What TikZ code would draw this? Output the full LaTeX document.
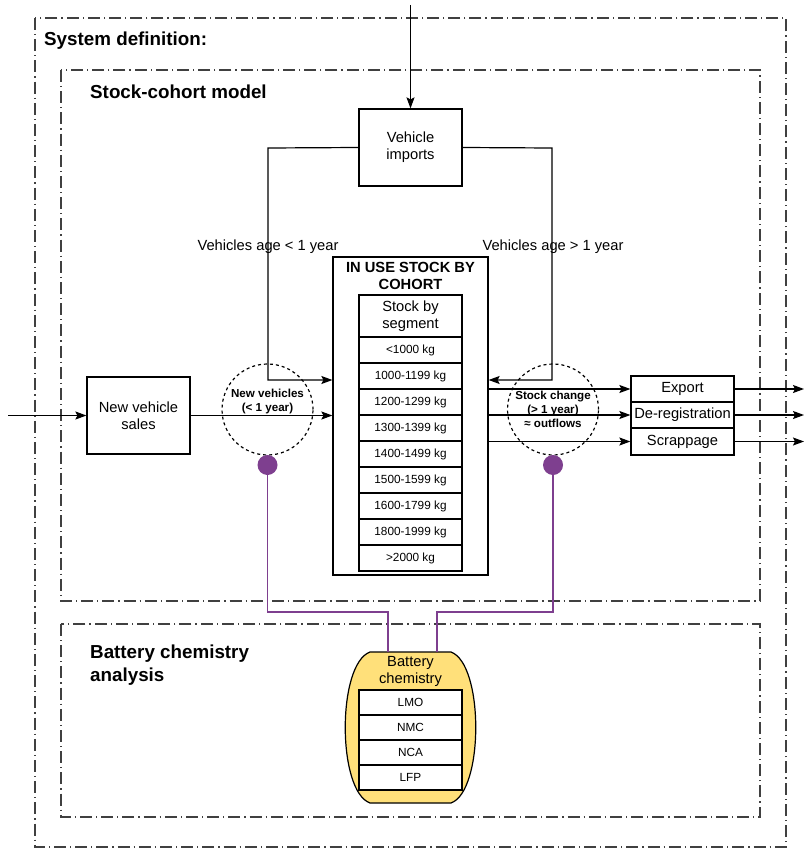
\documentclass[tikz,border=0pt]{standalone}
\usepackage{fontspec}
\setmainfont{Liberation Sans}
\usetikzlibrary{arrows.meta}
\definecolor{purp}{HTML}{7E3F8F}
\definecolor{batt}{HTML}{FFE07A}
\begin{document}
\begin{tikzpicture}[x=1pt,y=-1pt,
  box/.style={draw, line width=1.2pt, inner sep=0pt, align=center, font=\fontsize{14.7}{17}\selectfont},
  cell/.style={draw, line width=1.2pt, inner sep=0pt, minimum width=103pt, font=\fontsize{11.8}{13}\selectfont},
  arr/.style={line width=1.2pt, -{Stealth[length=11pt,width=8pt,inset=2pt]}},
  dashdot/.style={line width=1.1pt, draw=black!75, dash pattern=on 12pt off 4pt on 1.2pt off 4pt},
  circ/.style={draw, circle, dashed, line width=1.2pt, minimum size=91pt, inner sep=0pt},
  dot/.style={circle, fill=purp, minimum size=20pt, inner sep=0pt},
  plink/.style={draw=purp, line width=1.1pt},
  ttl/.style={font=\fontsize{18.8}{23}\selectfont\bfseries, inner sep=0pt, align=left},
  lbl/.style={font=\fontsize{14.7}{17}\selectfont, inner sep=0pt},
  ctext/.style={font=\fontsize{11.6}{14}\selectfont\bfseries, inner sep=0pt, align=center}]
\useasboundingbox (0,0) rectangle (804,848);

% system frames
\draw[dashdot] (35,18) rectangle (786,847);
\draw[dashdot] (61,70) rectangle (760,601);
\draw[dashdot] (61,624) rectangle (760,817);
\node[ttl, anchor=west] (tsys) at (44,41) {System definition:};
\node[ttl, anchor=west] (tstock) at (90,92) {Stock-cohort model};
\node[ttl, anchor=north west] (tbatt) at (90,644.5) {Battery chemistry\\analysis};

% vehicle imports
\node[box, minimum width=103pt, minimum height=77pt] (vi) at (410.5,147.5) {Vehicle\\imports};
\coordinate (top) at (410.5,5);
\draw[arr] (top) -- (vi.north);

% stock box
\node[draw, line width=1.2pt, minimum width=155pt, minimum height=318pt, inner sep=0pt] (stock) at (410.5,416) {};
\node[font=\fontsize{14.7}{17}\selectfont\bfseries, align=center, inner sep=0pt] (stitle) at (410.5,276) {IN USE STOCK BY\\COHORT};
\node[box, minimum width=103pt, minimum height=42pt] (seg) at (410.5,316) {Stock by\\segment};
\foreach \t [count=\i] in {<1000 kg,1000-1199 kg,1200-1299 kg,1300-1399 kg,1400-1499 kg,1500-1599 kg,1600-1799 kg,1800-1999 kg,>2000 kg}{
  \node[cell, minimum height=26pt] (c\i) at (410.5,{337+26*\i-13}) {\t};
}

% new vehicle sales
\node[box, minimum width=103pt, minimum height=77pt] (nvs) at (138.5,415.5) {New vehicle\\sales};
\coordinate (in) at (8,415.5);
\draw[arr] (in) -- (nvs.west);
\draw[arr] (nvs.east) -- (stock.west |- nvs.east);

% import paths
\draw[arr] (vi.west) -- (268,148) -- (268,380) -- (stock.west |- 0,380);
\draw[arr] (vi.east) -- (552,148) -- (552,380) -- (stock.east |- 0,380);
\node[lbl] (l1) at (268,246.5) {Vehicles age < 1 year};
\node[lbl] (l2) at (553,246.5) {Vehicles age > 1 year};

% circles
\node[circ] (cn) at (267.5,409.5) {};
\node[ctext] (tn) at (267.5,401.5) {New vehicles\\(< 1 year)};
\node[circ] (cs) at (553,409.5) {};
\node[ctext] (ts) at (553,409.5) {Stock change\\(> 1 year)\\≈ outflows};
\node[dot] (d1) at (267.5,465) {};
\node[dot] (d2) at (553,465) {};

% outflows
\node[box, minimum width=103pt, minimum height=26pt] (exp) at (682.5,389) {Export};
\node[box, minimum width=103pt, minimum height=26pt] (dereg) at (682.5,415) {De-registration};
\node[box, minimum width=103pt, minimum height=27pt] (scrap) at (682.5,441.5) {Scrappage};
\draw[arr] (stock.east |- exp.west) -- (exp.west);
\draw[arr] (stock.east |- dereg.west) -- (dereg.west);
\draw[arr] (stock.east |- scrap.west) -- (scrap.west);
\coordinate (o1) at (804,389);
\coordinate (o2) at (804,415);
\coordinate (o3) at (804,441.5);
\draw[arr] (exp.east) -- (o1);
\draw[arr] (dereg.east) -- (o2);
\draw[arr] (scrap.east) -- (o3);

% battery chemistry
\draw[line width=1.2pt, fill=batt] (370,652) -- (451,652)
  .. controls (484,664) and (484,791) .. (451,803) -- (370,803)
  .. controls (337,791) and (337,664) .. (370,652) -- cycle;
\coordinate (bt1) at (388,652);
\coordinate (bt2) at (437,652);
\node[box, draw=none] (bch) at (410.5,671.5) {Battery\\chemistry};
\foreach \t [count=\i] in {LMO,NMC,NCA,LFP}{
  \node[cell, fill=white, minimum height=25pt] (b\i) at (410.5,{690+25*\i-12.5}) {\t};
}
\draw[plink] (d1.south) -- (267.5,612) -- (388,612) -- (bt1);
\draw[plink] (d2.south) -- (553,612) -- (437,612) -- (bt2);
\end{tikzpicture}
\end{document}
